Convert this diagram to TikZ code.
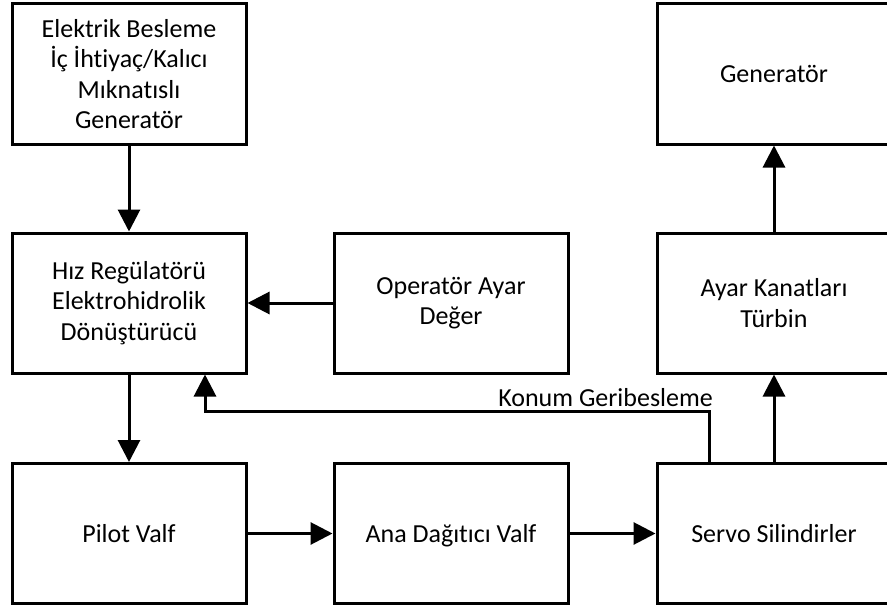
\documentclass[tikz,border=0pt]{standalone}
\usepackage{fontspec}
\setmainfont{Carlito}[Ligatures=NoCommon]
\usetikzlibrary{arrows.meta}
\begin{document}
\begin{tikzpicture}[x=1pt,y=-1pt,
  block/.style={draw=black, line width=3pt, minimum width=234pt, minimum height=140pt,
    align=center, inner sep=0pt, font=\fontsize{26}{30.5}\selectfont},
  flow/.style={line width=3pt, -{Triangle[length=22pt,width=22pt]}},
  lbl/.style={inner sep=0pt, font=\fontsize{26}{30.5}\selectfont}]
\useasboundingbox (0,0) rectangle (887,610);

% blocks
\node[block] (elek)  at (129,74)    {Elektrik Besleme\\İç İhtiyaç/Kalıcı\\Mıknatıslı\\Generatör};
\node[block] (gen)   at (774,74)    {Generatör};
\node[block] (hiz)   at (129,303)   {Hız Regülatörü\\Elektrohidrolik\\Dönüştürücü};
\node[block] (oper)  at (451,303)   {Operatör Ayar\\Değer};
\node[block] (ayar)  at (774,303)   {Ayar Kanatları\\Türbin};
\node[block] (pilot) at (129,533.5) {Pilot Valf};
\node[block, text depth=0pt] (ana) at (451,533.5) {Ana Dağıtıcı Valf};
\node[block] (servo) at (774,533.5) {Servo Silindirler};

% signal flow
\draw[flow] (elek) -- (hiz);
\draw[flow] (oper) -- (hiz);
\draw[flow] (hiz) -- (pilot);
\draw[flow] (pilot) -- (ana);
\draw[flow] (ana) -- (servo);
\draw[flow] (servo) -- (ayar);
\draw[flow] (ayar) -- (gen);

% position feedback loop
\coordinate (fbR) at (709,411);
\coordinate (fbL) at (205,411);
\draw[flow] (servo.north -| fbR) -- (fbR) -- (fbL) -- (hiz.south -| fbL);
\node[lbl, anchor=base east] (konum) at (713,406) {Konum Geribesleme};
\end{tikzpicture}
\end{document}
